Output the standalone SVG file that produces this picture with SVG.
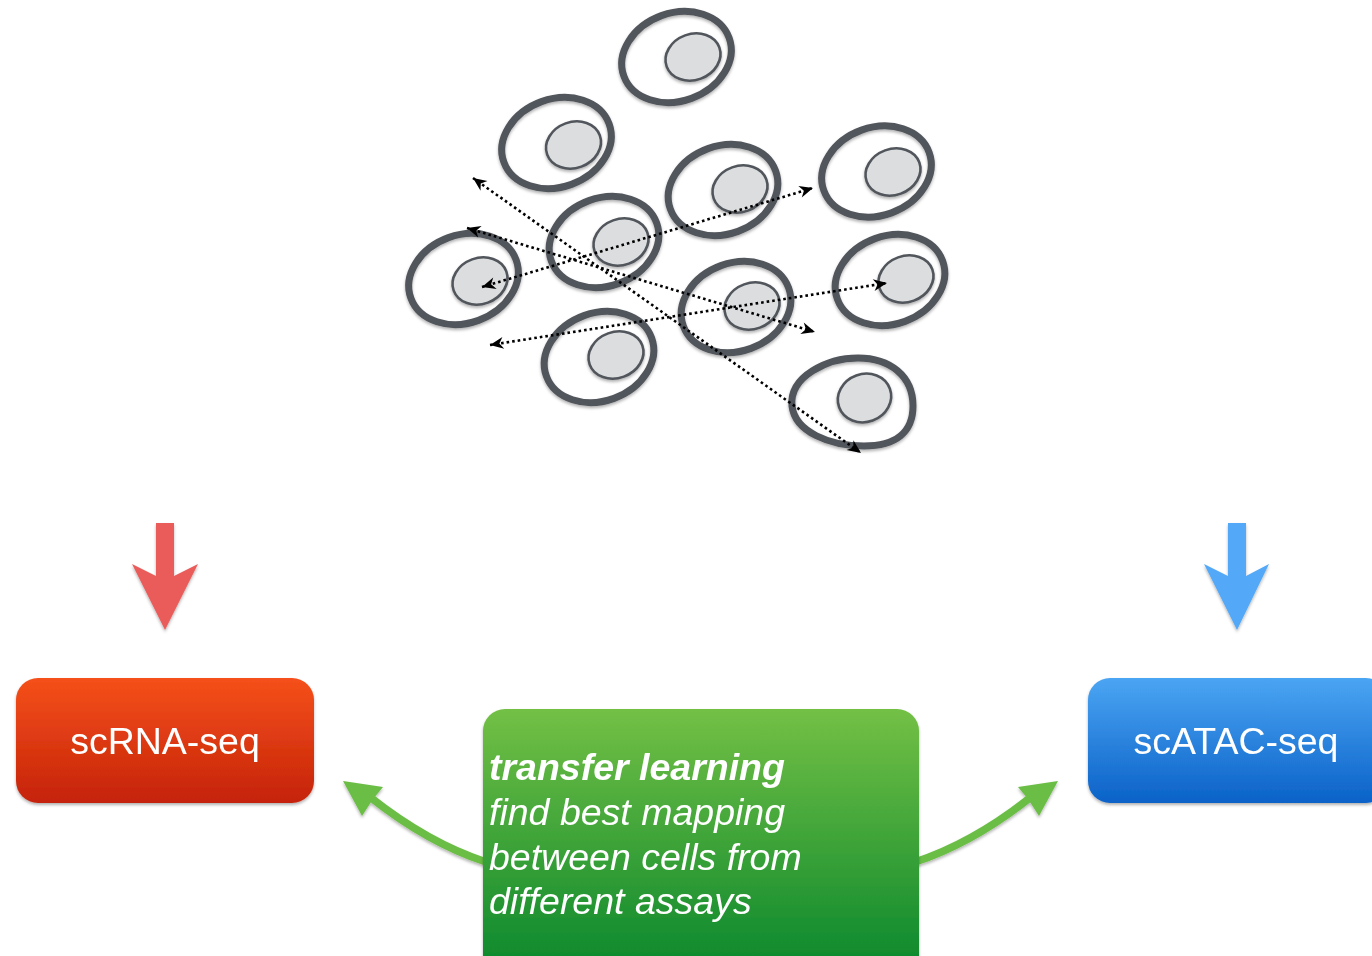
<svg xmlns="http://www.w3.org/2000/svg" width="1372" height="956" viewBox="0 0 1372 956">
  <style>
    .membrane { fill: none; stroke: #51555b; stroke-width: 7; }
    .nucleus { fill: #dcdddf; stroke: #51555b; stroke-width: 2.6; }
    .link { fill: none; stroke: #000; stroke-width: 2.6; stroke-dasharray: 2.6 3; }
    .label { font-family: "Liberation Sans", Arial, Helvetica, sans-serif; fill: #fff; }
    .box-label { font-size: 37.5px; text-anchor: middle; }
    .note { font-size: 37.5px; font-style: italic; }
    .note-title { font-weight: bold; }
    .green-arrow { fill: none; stroke: #6bbd45; stroke-width: 7.5; }
    .green-head { fill: #6bbd45; }
  </style>
  <defs>
    <filter id="shadow" x="-20%" y="-20%" width="140%" height="140%">
      <feDropShadow dx="0" dy="2" stdDeviation="1.6" flood-color="#000" flood-opacity="0.3"/>
    </filter>
    <linearGradient id="gradRed" x1="0" y1="0" x2="0" y2="1">
      <stop offset="0" stop-color="#f5501a"/>
      <stop offset="1" stop-color="#c5230a"/>
    </linearGradient>
    <linearGradient id="gradBlue" x1="0" y1="0" x2="0" y2="1">
      <stop offset="0" stop-color="#4ba5f3"/>
      <stop offset="1" stop-color="#0b62c8"/>
    </linearGradient>
    <linearGradient id="gradGreen" x1="0" y1="0" x2="0" y2="1">
      <stop offset="0" stop-color="#73c045"/>
      <stop offset="1" stop-color="#07862c"/>
    </linearGradient>
    <marker id="tip" viewBox="-15 -7 16 14" refX="0" refY="0" markerWidth="16" markerHeight="14" markerUnits="userSpaceOnUse" orient="auto-start-reverse">
      <path d="M0,0 L-13.5,-6 L-9.5,0 L-13.5,6 Z" fill="#000"/>
    </marker>
  </defs>

  <!-- cells: outer membrane with nucleus -->
  <g id="cells" filter="url(#shadow)">
    <g id="cell-a">
      <ellipse class="membrane" cx="676.5" cy="57" rx="56" ry="44" transform="rotate(-20 676.5 57)"/>
      <ellipse class="nucleus" cx="693" cy="57" rx="28" ry="23" transform="rotate(-20 693 57)"/>
    </g>
    <g id="cell-b">
      <ellipse class="membrane" cx="556.5" cy="143" rx="56" ry="44" transform="rotate(-20 556.5 143)"/>
      <ellipse class="nucleus" cx="573.5" cy="145" rx="28" ry="23" transform="rotate(-20 573.5 145)"/>
    </g>
    <g id="cell-c">
      <ellipse class="membrane" cx="723" cy="190" rx="56" ry="44" transform="rotate(-20 723 190)"/>
      <ellipse class="nucleus" cx="740" cy="189" rx="28" ry="23" transform="rotate(-20 740 189)"/>
    </g>
    <g id="cell-d">
      <ellipse class="membrane" cx="876.5" cy="171.5" rx="56" ry="44" transform="rotate(-20 876.5 171.5)"/>
      <ellipse class="nucleus" cx="893" cy="172" rx="28" ry="23" transform="rotate(-20 893 172)"/>
    </g>
    <g id="cell-e">
      <ellipse class="membrane" cx="604" cy="242" rx="56" ry="44" transform="rotate(-20 604 242)"/>
      <ellipse class="nucleus" cx="621" cy="242" rx="28" ry="23" transform="rotate(-20 621 242)"/>
    </g>
    <g id="cell-f">
      <ellipse class="membrane" cx="463.5" cy="279" rx="56" ry="44" transform="rotate(-20 463.5 279)"/>
      <ellipse class="nucleus" cx="480" cy="281" rx="28" ry="23" transform="rotate(-20 480 281)"/>
    </g>
    <g id="cell-g">
      <ellipse class="membrane" cx="736" cy="307" rx="56" ry="44" transform="rotate(-20 736 307)"/>
      <ellipse class="nucleus" cx="752" cy="306" rx="28" ry="23" transform="rotate(-20 752 306)"/>
    </g>
    <g id="cell-h">
      <ellipse class="membrane" cx="890" cy="280" rx="56" ry="44" transform="rotate(-20 890 280)"/>
      <ellipse class="nucleus" cx="906" cy="279" rx="28" ry="23" transform="rotate(-20 906 279)"/>
    </g>
    <g id="cell-i">
      <ellipse class="membrane" cx="599" cy="357" rx="56" ry="44" transform="rotate(-20 599 357)"/>
      <ellipse class="nucleus" cx="616" cy="355" rx="28" ry="23" transform="rotate(-20 616 355)"/>
    </g>
    <g id="cell-j">
      <path class="membrane" d="M792 406 C789 376 828 358 858 358 C890 358 913 376 913 406 C913 432 896 446 864 446 C830 446 795 432 792 406 Z"/>
      <ellipse class="nucleus" cx="864.5" cy="398" rx="27" ry="24" transform="rotate(-20 864.5 398)"/>
    </g>
  </g>

  <!-- dotted correspondence links between cells -->
  <g id="cell-links">
    <line class="link" x1="473" y1="178" x2="861" y2="453" marker-start="url(#tip)" marker-end="url(#tip)"/>
    <line class="link" x1="467" y1="228" x2="815" y2="332" marker-start="url(#tip)" marker-end="url(#tip)"/>
    <line class="link" x1="482" y1="287" x2="813" y2="188" marker-start="url(#tip)" marker-end="url(#tip)"/>
    <line class="link" x1="490" y1="345" x2="887" y2="283" marker-start="url(#tip)" marker-end="url(#tip)"/>
  </g>

  <!-- assay arrows and mapping arrows -->
  <g id="connectors" filter="url(#shadow)">
    <polygon id="arrow-rna" fill="#ea5c5a" points="156,523 174,523 174,576 198,564 165,630 132,564 156,576"/>
    <polygon id="arrow-atac" fill="#53a8f8" points="1228,523 1246,523 1246,576 1269,564 1237,630 1204,564 1228,576"/>
    <g id="map-left">
      <path class="green-arrow" d="M486 862 Q428 843 370 797"/>
      <polygon class="green-head" points="343,781 383,787 373,799 362,816"/>
    </g>
    <g id="map-right">
      <path class="green-arrow" d="M915 862 Q973 843 1031 797"/>
      <polygon class="green-head" points="1058,781 1018,787 1028,799 1039,816"/>
    </g>
  </g>

  <g id="node-scrna" filter="url(#shadow)">
    <rect x="16" y="678" width="298" height="125" rx="22" fill="url(#gradRed)"/>
    <text class="label box-label" x="165" y="754">scRNA-seq</text>
  </g>

  <g id="node-scatac" filter="url(#shadow)">
    <rect x="1088" y="678" width="300" height="125" rx="22" fill="url(#gradBlue)"/>
    <text class="label box-label" x="1236" y="754">scATAC-seq</text>
  </g>

  <g id="node-transfer" filter="url(#shadow)">
    <rect x="483" y="709" width="436" height="270" rx="22" fill="url(#gradGreen)"/>
    <text class="label note note-title" x="489" y="780">transfer learning</text>
    <text class="label note" x="489" y="825">find best mapping</text>
    <text class="label note" x="489" y="870">between cells from</text>
    <text class="label note" x="489" y="914">different assays</text>
  </g>
</svg>
